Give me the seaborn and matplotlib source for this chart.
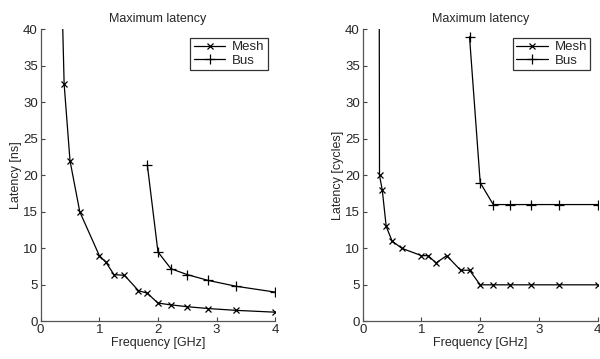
import matplotlib
matplotlib.use("Agg")
import matplotlib.pyplot as plt
import seaborn as sns
import pandas as pd

# Mesh data
mesh_freq = [0.25, 0.286, 0.333, 0.4, 0.5, 0.667, 1.0, 1.111, 1.25, 1.429, 1.667, 1.818, 2.0, 2.222, 2.5, 2.857, 3.333, 4.0]
mesh_ns = [800.0, 70.0, 54.0, 32.5, 22.0, 15.0, 9.0, 8.1, 6.4, 6.3, 4.2, 3.85, 2.5, 2.25, 2.0, 1.75, 1.5, 1.25]
mesh_cycles = [200, 20, 18, 13, 11, 10, 9, 9, 8, 9, 7, 7, 5, 5, 5, 5, 5, 5]

# Bus data
bus_freq = [1.818, 2.0, 2.222, 2.5, 2.857, 3.333, 4.0]
bus_ns = [21.45, 9.5, 7.2, 6.4, 5.6, 4.8, 4.0]
bus_cycles = [39, 19, 16, 16, 16, 16, 16]

title = "Maximum latency"
xlabel = "Frequency [GHz]"
ylabels = ["Latency [ns]", "Latency [cycles]"]
xticks = [0, 1, 2, 3, 4]
yticks = [0, 5, 10, 15, 20, 25, 30, 35, 40]

sns.set_theme(style="white")
plt.rcParams['font.family'] = ['Liberation Sans', 'DejaVu Sans']

fig = plt.figure(figsize=(6.0, 3.59), dpi=100)
ax1 = fig.add_axes([0.0678, 0.105, 0.391, 0.813])
ax2 = fig.add_axes([0.6045, 0.105, 0.3917, 0.813])

panels = [(ax1, mesh_ns, bus_ns, ylabels[0]), (ax2, mesh_cycles, bus_cycles, ylabels[1])]
for ax, mv, bv, yl in panels:
    dm = pd.DataFrame({"f": mesh_freq, "v": mv})
    db = pd.DataFrame({"f": bus_freq, "v": bv})
    sns.lineplot(data=dm, x="f", y="v", ax=ax, color="black", lw=0.9, marker="x",
                 markersize=4.5, markeredgewidth=0.9, markeredgecolor="black", label="Mesh", sort=False)
    sns.lineplot(data=db, x="f", y="v", ax=ax, color="black", lw=0.9, marker="+",
                 markersize=6.5, markeredgewidth=0.9, markeredgecolor="black", label="Bus", sort=False)
    ax.set_xlim(0, 4)
    ax.set_ylim(0, 40)
    ax.set_xticks(xticks)
    ax.set_yticks(yticks)
    ax.set_title(title, fontsize=9, pad=5)
    ax.set_xlabel(xlabel, fontsize=9, labelpad=1)
    ax.set_ylabel(yl, fontsize=9, labelpad=1)
    ax.tick_params(axis="both", direction="in", length=3, width=0.8, labelsize=9.5,
                   color="#444444", pad=2, left=True, bottom=True)
    for s in ["top", "right"]:
        ax.spines[s].set_visible(False)
    for s in ["left", "bottom"]:
        ax.spines[s].set_color("#555555")
        ax.spines[s].set_linewidth(0.9)
    leg = ax.legend(loc="upper right", bbox_to_anchor=(0.985, 0.985), fontsize=9.5, frameon=True,
                    fancybox=False, edgecolor="black", handlelength=2.4, borderpad=0.25,
                    labelspacing=0.1, handletextpad=0.5, borderaxespad=0.3)
    leg.get_frame().set_linewidth(0.9)

fig.savefig("out.png", dpi=100)
